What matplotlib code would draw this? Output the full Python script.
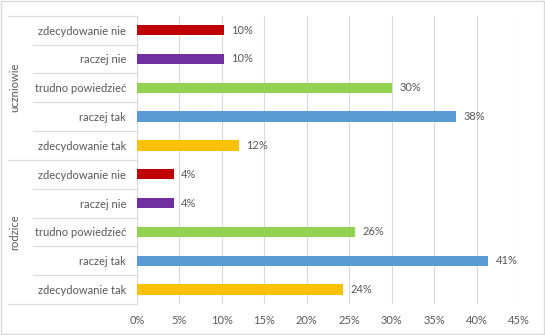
import matplotlib
matplotlib.use("Agg")
import matplotlib.pyplot as plt
from matplotlib.lines import Line2D
from matplotlib.patches import Rectangle

plt.rcParams['font.family'] = ['Lato', 'DejaVu Sans']

groups = ["uczniowie", "rodzice"]
answers = ["zdecydowanie nie", "raczej nie", "trudno powiedzieć", "raczej tak", "zdecydowanie tak"]
colors = ["#C00000", "#7030A0", "#92D050", "#5B9BD5", "#FFC000"]
uczniowie = [10.2, 10.2, 30.0, 37.6, 12.0]
rodzice = [4.3, 4.3, 25.7, 41.4, 24.3]
xticks = [0, 5, 10, 15, 20, 25, 30, 35, 40, 45]

txt = "#595959"
grid = "#D9D9D9"

fig = plt.figure(figsize=(5.45, 3.35), dpi=100)
fig.patches.append(Rectangle((0.002, 0.003), 0.996, 0.994, transform=fig.transFigure,
                             fill=False, edgecolor="#D9D9D9", lw=1.0))
ax = fig.add_axes([0.2514, 0.0925, 0.7009, 0.8605])

values = uczniowie + rodzice
labels = answers + answers
cols = colors + colors
y = list(range(len(values)))
ax.barh(y, values, height=0.36, color=cols, zorder=3)
for yi, v in zip(y, values):
    ax.text(v + 0.9, yi, f"{v:.0f}%", va="center", ha="left", fontsize=8, color=txt)

ax.set_ylim(len(values) - 0.5, -0.5)
ax.set_xlim(0, 45)
ax.set_xticks(xticks)
ax.set_xticklabels([f"{t}%" for t in xticks], fontsize=8, color=txt)
ax.set_yticks(y)
ax.set_yticklabels(labels, fontsize=8, color=txt)
ax.tick_params(axis="both", length=0)
ax.tick_params(axis="y", pad=8)
ax.tick_params(axis="x", pad=8)
ax.grid(axis="x", color=grid, lw=0.8, zorder=0)
for s in ax.spines.values():
    s.set_visible(False)
ax.axvline(0, color=grid, lw=0.8, zorder=1)

# category separators in the label column
x_in = -(137 - 33) / (519 - 137) * 45
x_out = -(137 - 8) / (519 - 137) * 45
for k in range(len(values) + 1):
    yy = k - 0.5
    start = x_out if k % 5 == 0 else x_in
    ax.add_line(Line2D([start, 0], [yy, yy], color=grid, lw=0.8, clip_on=False))

x_grp = -(137 - 15) / (519 - 137) * 45
for g, name in enumerate(groups):
    ax.text(x_grp, g * 5 + 2, name, rotation=90, va="center", ha="center",
            fontsize=8, color=txt, clip_on=False)

fig.savefig("out.png", dpi=100)
